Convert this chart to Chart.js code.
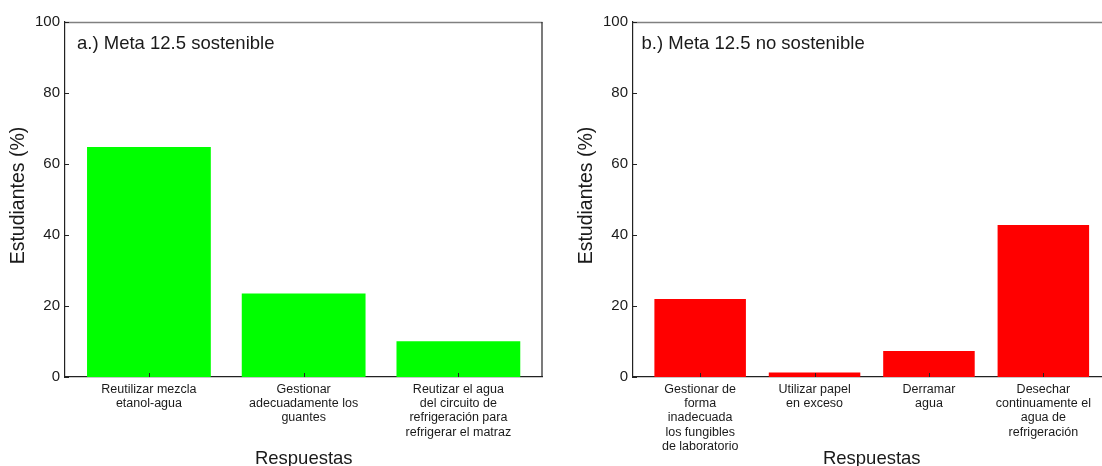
<!DOCTYPE html>
<html>
<head>
<meta charset="utf-8">
<script src="https://cdn.jsdelivr.net/npm/chart.js@4/dist/chart.umd.min.js"></script>
<style>
  html, body { margin: 0; padding: 0; width: 1102px; height: 466px; overflow: hidden; background: #fff; }
  .box { position: absolute; top: 0; width: 560px; height: 480px; }
</style>
</head>
<body>
<div class="box" style="left:0px"><canvas id="cA"></canvas></div>
<div class="box" style="left:568px"><canvas id="cB"></canvas></div>
<script>
// ---- Data ----
const categoriesA = [
  ["Reutilizar mezcla", "etanol-agua"],
  ["Gestionar", "adecuadamente los", "guantes"],
  ["Reutizar el agua", "del circuito de", "refrigeración para", "refrigerar el matraz"]
];
const valuesA = [64.8, 23.5, 10.1];

const categoriesB = [
  ["Gestionar de", "forma", "inadecuada", "los fungibles", "de laboratorio"],
  ["Utilizar papel", "en exceso"],
  ["Derramar", "agua"],
  ["Desechar", "continuamente el", "agua de", "refrigeración"]
];
const valuesB = [22.0, 1.3, 7.3, 42.8];

const yTicks = [0, 20, 40, 60, 80, 100];
const panelTitleA = "a.) Meta 12.5 sostenible";
const panelTitleB = "b.) Meta 12.5 no sostenible";
const yTitle = "Estudiantes (%)";
const xTitle = "Respuestas";

const FONT = "'Liberation Sans', Arial, sans-serif";
const INK = "#1a1a1a";

const frameAndLabel = {
  id: 'frameAndLabel',
  afterDraw(chart, args, opts) {
    const a = chart.chartArea, ctx = chart.ctx;
    const xs = chart.scales.x, ys = chart.scales.y;
    ctx.save();
    // frame: top (grey) and right
    ctx.lineWidth = 1.5;
    ctx.strokeStyle = '#808080';
    ctx.beginPath(); ctx.moveTo(a.left, a.top + 0.5); ctx.lineTo(a.right, a.top + 0.5); ctx.stroke();
    ctx.lineWidth = 1.2;
    ctx.strokeStyle = '#222';
    ctx.beginPath(); ctx.moveTo(a.right - 0.5, a.top); ctx.lineTo(a.right - 0.5, a.bottom); ctx.stroke();
    // inward tick marks from the library's scales
    ctx.lineWidth = 1;
    ctx.beginPath();
    xs.ticks.forEach(t => {
      const px = Math.round(xs.getPixelForValue(t.value)) + 0.5;
      ctx.moveTo(px, a.bottom); ctx.lineTo(px, a.bottom - 4);
    });
    ys.ticks.forEach(t => {
      const py = Math.round(ys.getPixelForValue(t.value)) + 0.5;
      ctx.moveTo(a.left, py); ctx.lineTo(a.left + 4, py);
    });
    ctx.stroke();
    // panel label
    ctx.fillStyle = INK;
    ctx.font = "18.5px " + FONT;
    ctx.textBaseline = 'alphabetic';
    ctx.textAlign = 'left';
    ctx.fillText(opts.text, a.left + opts.dx, a.top + 26.5);
    // y-axis title
    ctx.translate(19, (a.top + a.bottom) / 2 - 4);
    ctx.rotate(-Math.PI / 2);
    ctx.textAlign = 'center';
    ctx.textBaseline = 'middle';
    ctx.font = "19.5px " + FONT;
    ctx.fillText(yTitle, 0, 0);
    ctx.restore();
  }
};

function makeChart(id, cats, vals, color, xmin, xmax, label, dx) {
  const pts = vals.map((v, i) => ({ x: i + 1, y: v }));
  return new Chart(document.getElementById(id), {
    type: 'bar',
    data: {
      datasets: [{
        data: pts,
        backgroundColor: color,
        borderWidth: 0,
        barPercentage: 0.8,
        categoryPercentage: 1.0
      }]
    },
    options: {
      responsive: false,
      animation: false,
      devicePixelRatio: 1,
      layout: { padding: { left: 0, right: 17.5, top: 22, bottom: 0 } },
      plugins: {
        legend: { display: false },
        tooltip: { enabled: false },
        frameAndLabel: { text: label, dx: dx }
      },
      scales: {
        x: {
          type: 'linear',
          min: xmin,
          max: xmax,
          offset: false,
          afterFit: s => { s.height = 103; },
          afterBuildTicks: s => { s.ticks = cats.map((c, i) => ({ value: i + 1 })); },
          grid: { display: false, offset: false, drawTicks: false },
          border: { display: true, color: '#222', width: 1.2 },
          ticks: {
            autoSkip: false,
            maxRotation: 0,
            minRotation: 0,
            includeBounds: false,
            padding: 5,
            color: INK,
            font: { family: FONT, size: 12.5, lineHeight: 1.15 },
            callback: (v) => cats[Math.round(v) - 1]
          },
          title: {
            display: true,
            text: xTitle,
            color: INK,
            font: { family: FONT, size: 18.5, lineHeight: 1.2 },
            padding: { top: 0, bottom: 10 }
          }
        },
        y: {
          min: 0,
          max: 100,
          afterFit: s => { s.width = 65; },
          afterBuildTicks: s => { s.ticks = yTicks.map(v => ({ value: v })); },
          grid: { display: false, drawTicks: false },
          border: { display: true, color: '#222', width: 1.2 },
          ticks: {
            padding: 5,
            color: INK,
            font: { family: FONT, size: 15 }
          },
          title: { display: false }
        }
      }
    },
    plugins: [frameAndLabel]
  });
}

function sizeCanvas(id) {
  const c = document.getElementById(id);
  c.width = 560; c.height = 480;
  c.style.width = '560px'; c.style.height = '480px';
}
sizeCanvas('cA'); sizeCanvas('cB');

makeChart('cA', categoriesA, valuesA, '#00ff00', 0.4576, 3.5437, panelTitleA, 12);
makeChart('cB', categoriesB, valuesB, '#ff0000', 0.413, 4.587, panelTitleB, 8.5);
</script>
</body>
</html>
